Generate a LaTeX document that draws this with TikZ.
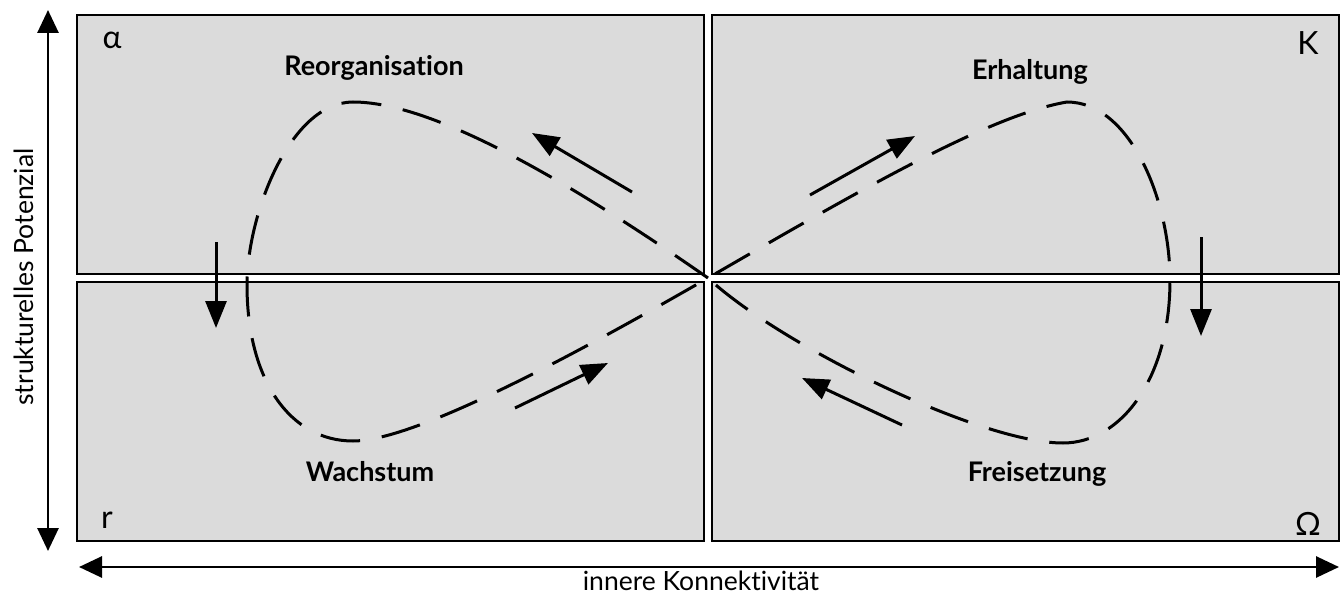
\documentclass[tikz,border=0pt]{standalone}
\usepackage{fontspec}
\setmainfont{Lato}[Ligatures=NoCommon]
\usetikzlibrary{arrows.meta}

\begin{document}
\begin{tikzpicture}[x=1pt, y=-1pt,
    quadrant/.style={rectangle, draw, line width=2.2pt, fill=gray!28,
                     minimum width=627pt, minimum height=259pt, inner sep=0pt},
    phase/.style={font=\fontsize{27}{32}\selectfont\bfseries, anchor=base},
    corner/.style={font=\fontsize{32}{36}\selectfont},
    axistext/.style={font=\fontsize{26.5}{30}\selectfont},
    cycleline/.style={line width=3pt, dash pattern=on 40pt off 22pt},
    flow/.style={-{Triangle[length=27pt,width=21pt]}, line width=3pt},
    axis/.style={{Triangle[length=23pt,width=21pt]}-{Triangle[length=23pt,width=21pt]},
                 line width=2.8pt}
]
\useasboundingbox (0,0) rectangle (1344,594);

% Quadrants
\node[quadrant] (alpha) at (390.5,144.5) {};
\node[quadrant] (kappa) at (1025.5,144.5) {};
\node[quadrant] (rquad) at (390.5,411.5) {};
\node[quadrant] (omega) at (1025.5,411.5) {};

% Corner letters
\node[corner] (alphalbl) at (112,40) {α};
\node[corner] (kappalbl) at (1308,43) {K};
\node[corner] (rlbl) at (107,520) {r};
\node[corner] (omegalbl) at (1308,524) {Ω};

% Phase names
\node[phase] (reorg) at (374,76) {Reorganisation};
\node[phase] (erhalt) at (1030,80) {Erhaltung};
\node[phase] (wachs) at (370,481) {Wachstum};
\node[phase] (frei) at (1037,481) {Freisetzung};

% Loop points
\coordinate (cross) at (708,278);
\coordinate (ltop) at (353,102);
\coordinate (lleft) at (247,285);
\coordinate (lbot) at (353,441);
\coordinate (rtop) at (1067,102);
\coordinate (rright) at (1170,280);
\coordinate (rbot) at (1063,443);

% Adaptive cycle
\draw[cycleline] (cross) .. controls (560,175) and (430,102) .. (ltop)
    .. controls (290,102) and (247,215) .. (lleft)
    .. controls (247,380) and (290,441) .. (lbot)
    .. controls (420,441) and (600,340) .. (cross)
    .. controls (860,190) and (990,115) .. (rtop)
    .. controls (1130,102) and (1170,200) .. (rright)
    .. controls (1170,380) and (1120,443) .. (rbot)
    .. controls (980,443) and (780,345) .. (cross);

% Direction arrows
\coordinate (a1s) at (632,192); \coordinate (a1e) at (532,133);
\coordinate (a2s) at (810,195); \coordinate (a2e) at (915,136);
\coordinate (a3s) at (1201,237); \coordinate (a3e) at (1201,336);
\coordinate (a4s) at (902,425); \coordinate (a4e) at (802,378);
\coordinate (a5s) at (216,242); \coordinate (a5e) at (216,328);
\coordinate (a6s) at (515,408); \coordinate (a6e) at (608,363);
\draw[flow] (a1s) -- (a1e);
\draw[flow] (a2s) -- (a2e);
\draw[flow] (a3s) -- (a3e);
\draw[flow] (a4s) -- (a4e);
\draw[flow] (a5s) -- (a5e);
\draw[flow] (a6s) -- (a6e);

% Axes
\coordinate (ytop) at (48,10); \coordinate (ybot) at (48,551);
\coordinate (xleft) at (79,567); \coordinate (xright) at (1339,567);
\draw[axis] (ybot) -- (ytop);
\draw[axis] (xleft) -- (xright);
\node[axistext, anchor=base] (xlbl) at (701,590) {innere Konnektivität};
\node[axistext, rotate=90] (ylbl) at (24,277) {strukturelles Potenzial};

\end{tikzpicture}
\end{document}
